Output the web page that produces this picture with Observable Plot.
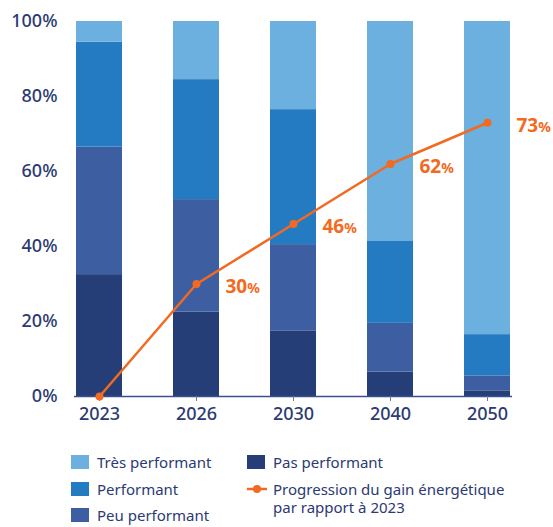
<!DOCTYPE html>
<html><head><meta charset="utf-8">
<script src="https://cdn.jsdelivr.net/npm/d3@7"></script>
<script src="https://cdn.jsdelivr.net/npm/@observablehq/plot@0.6"></script>
<style>
body{margin:0;background:#fff;font-family:"Noto Sans",sans-serif;}
#wrap{position:relative;width:553px;height:527px;}
#legend{position:absolute;left:0;top:453px;width:553px;font-size:15px;color:#2b3a73;}
.li{position:absolute;display:flex;align-items:flex-start;line-height:18px;}
.sw{width:18px;height:14px;margin-right:8px;margin-top:2px;flex:none;}
</style></head>
<body><div id="wrap"><div id="chart"></div><div id="legend"></div></div>
<script>
const years = ["2023","2026","2030","2040","2050"];
const categories = ["Pas performant","Peu performant","Performant","Très performant"];
const pasPerf = [32.5,22.5,17.5,6.5,1.5];
const peuPerf = [34,30,23,13,4];
const perf = [28,32,36,22,11];
const tresPerf = [5.5,15.5,23.5,58.5,83.5];
const gain = [0,30,46,62,73];
const colors = ["#253e78","#3d5ea1","#247bc1","#6cb0df"];
const orange = "#f26a21";
const navy = "#2b3a73";

const series = [pasPerf, peuPerf, perf, tresPerf];
const rows = [];
years.forEach((y,i)=>categories.forEach((c,j)=>rows.push({year:y,cat:c,v:series[j][i]})));
const line = years.map((y,i)=>({year:y,v:gain[i]}));
const lbl = line.filter(d=>d.v>0);

const chart = Plot.plot({
  width:553, height:440,
  marginLeft:74, marginRight:41, marginTop:21, marginBottom:44,
  style:{fontFamily:"Noto Sans, sans-serif", color:navy, background:"#fff"},
  x:{domain:years, paddingInner:0.53, paddingOuter:0, axis:null, label:null},
  y:{domain:[0,100], axis:null, label:null},
  color:{domain:categories, range:colors},
  marks:[
    Plot.barY(rows,{x:"year",y:"v",fill:"cat",order:categories}),
    Plot.ruleY([0],{stroke:"#3d4f8a",strokeWidth:1.5}),
    Plot.axisX({tickSize:5,tickPadding:6,fontSize:18,fontWeight:500,stroke:"#6b78a8",fill:navy,label:null}),
    Plot.axisY({ticks:[0,20,40,60,80,100],tickFormat:d=>d+"%",tickSize:0,tickPadding:17,fontSize:18,fontWeight:500,fill:navy,label:null}),
    Plot.line(line,{x:"year",y:"v",stroke:orange,strokeWidth:2.5}),
    Plot.dot(line,{x:"year",y:"v",fill:orange,r:4}),
    Plot.text(lbl,{x:"year",y:"v",text:d=>String(d.v),dx:29,dy:3,textAnchor:"start",fill:orange,fontSize:19,fontWeight:"bold"})
  ]
});
document.getElementById("chart").appendChild(chart);
const labelSet = new Set(lbl.map(d=>String(d.v)));
chart.querySelectorAll('text').forEach(t=>{
  if(t.getAttribute("fill")===orange || (t.parentNode && t.parentNode.getAttribute("fill")===orange)){
    if(labelSet.has(t.textContent.trim())){
      const ts=document.createElementNS("http://www.w3.org/2000/svg","tspan");
      ts.setAttribute("font-size","14");
      ts.textContent="%";
      t.appendChild(ts);
    }
  }
});

const leg = document.getElementById("legend");
const items = [
  {t:"Très performant",c:colors[3],x:71,y:0},
  {t:"Performant",c:colors[2],x:71,y:27},
  {t:"Peu performant",c:colors[1],x:71,y:53},
  {t:"Pas performant",c:colors[0],x:247,y:0},
  {t:"Progression du gain énergétique<br>par rapport à 2023",line:true,x:247,y:27}
];
items.forEach(it=>{
  const d=document.createElement("div");d.className="li";
  d.style.left=it.x+"px";d.style.top=it.y+"px";
  if(it.line){
    d.innerHTML='<svg width="20" height="14" style="margin-right:6px;margin-top:2px;flex:none"><line x1="0" y1="7" x2="20" y2="7" stroke="'+orange+'" stroke-width="2.5"/><circle cx="10" cy="7" r="4" fill="'+orange+'"/></svg><span>'+it.t+'</span>';
  } else {
    d.innerHTML='<div class="sw" style="background:'+it.c+'"></div><span>'+it.t+'</span>';
  }
  leg.appendChild(d);
});
</script></body></html>
